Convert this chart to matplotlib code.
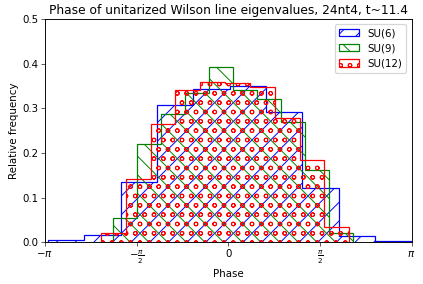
import numpy as np
import matplotlib
matplotlib.use('Agg')
import matplotlib.pyplot as plt

# bin ranges (min/max phase of the data) and densities, 10 bins each
su6_range = (-3.09, 3.14)
su6_vals = [0.005, 0.017, 0.134, 0.308, 0.343, 0.351, 0.291, 0.122, 0.015, 0.003]

su9_range = (-1.981, 2.145)
su9_vals = [0.055, 0.220, 0.288, 0.335, 0.392, 0.341, 0.321, 0.270, 0.161, 0.020]

su12_range = (-2.182, 2.075)
su12_vals = [0.0215, 0.141, 0.265, 0.340, 0.360, 0.357, 0.347, 0.278, 0.185, 0.035]

labels = ['SU(6)', 'SU(9)', 'SU(12)']
colors = ['blue', 'green', 'red']
hatches = ['/', '\\', 'o']

xticks = [-np.pi, -np.pi / 2, 0, np.pi / 2, np.pi]
xticklabels = [r'$-\pi$', r'$-\frac{\pi}{2}$', '0', r'$\frac{\pi}{2}$', r'$\pi$']

DPI = 56


def main():
	plt.rcParams['font.size'] = 13.2
	plt.rcParams['patch.linewidth'] = 1.6
	plt.rcParams['hatch.linewidth'] = 1.25
	plt.rcParams['axes.linewidth'] = 1.2
	plt.rcParams['xtick.major.size'] = 5
	plt.rcParams['ytick.major.size'] = 5

	fig = plt.figure(figsize=(423 / DPI, 284 / DPI), dpi=DPI)
	ax = fig.add_axes([0.106, 0.147, 0.867, 0.786])

	# draw each series as a step histogram with its own 10 bins
	series = [(su6_range, su6_vals), (su9_range, su9_vals), (su12_range, su12_vals)]
	for (rng, vals), lab, col, hat in zip(series, labels, colors, hatches):
		edges = np.linspace(rng[0], rng[1], len(vals) + 1)
		centers = 0.5 * (edges[:-1] + edges[1:])
		ax.hist(centers, bins=edges, weights=vals, histtype='step', fill=False,
			edgecolor=col, hatch=hat, label=lab)

	ax.set_xlim(-np.pi, np.pi)
	ax.set_ylim(0, 0.5)
	ax.set_xticks(xticks)
	ax.set_xticklabels(xticklabels)
	ax.set_title('Phase of unitarized Wilson line eigenvalues, 24nt4, t~11.4')
	ax.set_xlabel('Phase')
	ax.set_ylabel('Relative frequency')
	ax.legend(loc='upper right')

	fig.savefig('out.png', dpi=DPI)

if __name__ == "__main__":
	main()
